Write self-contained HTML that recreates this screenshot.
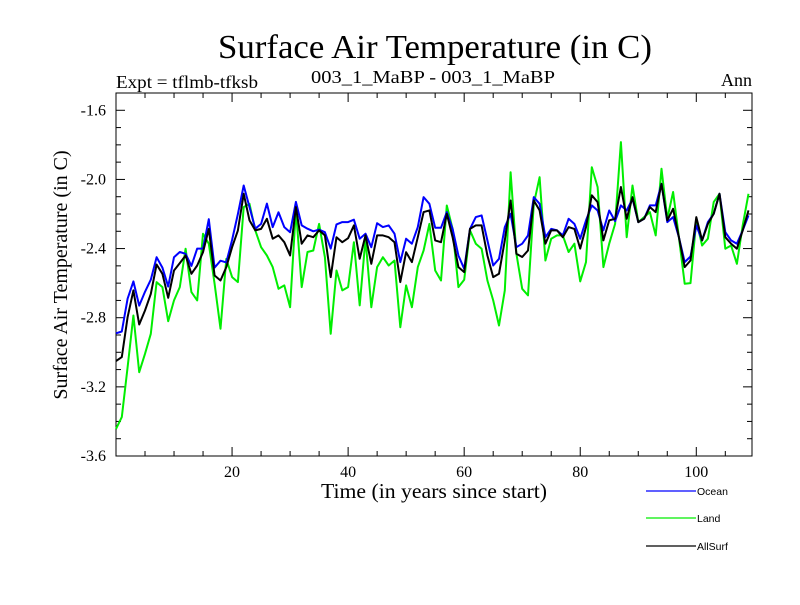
<!DOCTYPE html>
<html><head><meta charset="utf-8"><style>
body{margin:0;background:#fff;}
svg text{font-family:"Liberation Serif",serif;}
</style></head><body>
<svg id="chart" width="800" height="600" xmlns="http://www.w3.org/2000/svg">
<text x="218" y="58" font-size="34" textLength="434" lengthAdjust="spacingAndGlyphs">Surface Air Temperature (in C)</text>
<text x="116" y="88" font-size="18" textLength="142" lengthAdjust="spacingAndGlyphs">Expt = tflmb-tfksb</text>
<text x="311" y="83" font-size="18" textLength="244" lengthAdjust="spacingAndGlyphs">003_1_MaBP - 003_1_MaBP</text>
<text x="752" y="86" font-size="18" text-anchor="end">Ann</text>
<text transform="translate(67,275) rotate(-90)" font-size="20" text-anchor="middle">Surface Air Temperature (in C)</text>
<text x="321" y="498" font-size="21" textLength="226" lengthAdjust="spacingAndGlyphs">Time (in years since start)</text>
<g id="axes"></g>
<g id="series"></g>
<g id="legend"></g>
</svg>
<script>
const yearsCount = 110;
const ocean = [-2.89,-2.88,-2.69,-2.59,-2.73,-2.65,-2.58,-2.45,-2.51,-2.62,-2.45,-2.42,-2.43,-2.50,-2.40,-2.40,-2.23,-2.51,-2.47,-2.48,
-2.35,-2.20,-2.035,-2.16,-2.285,-2.257,-2.14,-2.276,-2.19,-2.276,-2.305,-2.13,-2.266,-2.285,-2.30,-2.29,-2.305,-2.40,-2.26,-2.247,
-2.247,-2.233,-2.343,-2.314,-2.392,-2.253,-2.276,-2.266,-2.314,-2.478,-2.343,-2.372,-2.276,-2.102,-2.141,-2.28,-2.28,-2.189,-2.286,-2.44,
-2.517,-2.286,-2.218,-2.208,-2.353,-2.498,-2.459,-2.276,-2.199,-2.392,-2.372,-2.324,-2.102,-2.141,-2.334,-2.286,-2.295,-2.324,-2.228,-2.257,
-2.343,-2.237,-2.15,-2.18,-2.295,-2.18,-2.241,-2.15,-2.18,-2.112,-2.247,-2.228,-2.15,-2.15,-2.025,-2.247,-2.218,-2.334,-2.478,-2.446,
-2.266,-2.353,-2.247,-2.199,-2.083,-2.305,-2.353,-2.372,-2.295,-2.208];
const land = [-3.443,-3.375,-3.086,-2.787,-3.115,-3.009,-2.893,-2.594,-2.623,-2.82,-2.70,-2.623,-2.401,-2.652,-2.70,-2.314,-2.372,-2.604,-2.864,-2.46,
-2.565,-2.594,-2.16,-2.141,-2.295,-2.392,-2.44,-2.507,-2.633,-2.613,-2.739,-2.17,-2.623,-2.42,-2.411,-2.257,-2.45,-2.893,-2.527,-2.642,
-2.623,-2.363,-2.729,-2.343,-2.739,-2.507,-2.45,-2.498,-2.469,-2.855,-2.613,-2.739,-2.507,-2.411,-2.257,-2.527,-2.585,-2.151,-2.286,-2.623,
-2.58,-2.295,-2.372,-2.401,-2.585,-2.70,-2.845,-2.642,-1.958,-2.43,-2.633,-2.671,-2.141,-1.987,-2.469,-2.343,-2.324,-2.324,-2.42,-2.372,
-2.59,-2.478,-1.929,-2.044,-2.507,-2.372,-2.257,-1.784,-2.334,-2.035,-2.247,-2.218,-2.189,-2.324,-1.938,-2.228,-2.073,-2.334,-2.604,-2.6,
-2.237,-2.382,-2.343,-2.131,-2.083,-2.401,-2.382,-2.488,-2.266,-2.083];
const allsurf = [-3.051,-3.028,-2.797,-2.642,-2.839,-2.758,-2.662,-2.492,-2.546,-2.685,-2.527,-2.484,-2.44,-2.546,-2.498,-2.421,-2.286,-2.556,-2.585,-2.507,
-2.392,-2.295,-2.083,-2.237,-2.295,-2.286,-2.228,-2.343,-2.324,-2.363,-2.44,-2.16,-2.372,-2.324,-2.334,-2.295,-2.324,-2.565,-2.334,-2.363,
-2.34,-2.266,-2.459,-2.324,-2.488,-2.324,-2.324,-2.334,-2.363,-2.594,-2.421,-2.478,-2.334,-2.189,-2.179,-2.353,-2.363,-2.199,-2.334,-2.507,
-2.536,-2.286,-2.266,-2.266,-2.44,-2.565,-2.546,-2.353,-2.122,-2.43,-2.449,-2.411,-2.122,-2.179,-2.372,-2.295,-2.295,-2.334,-2.276,-2.286,
-2.40,-2.276,-2.092,-2.131,-2.353,-2.237,-2.228,-2.044,-2.228,-2.102,-2.247,-2.228,-2.16,-2.189,-2.025,-2.237,-2.17,-2.334,-2.507,-2.469,
-2.218,-2.353,-2.257,-2.199,-2.083,-2.334,-2.372,-2.401,-2.295,-2.179];
const yTicks = [-1.6,-2.0,-2.4,-2.8,-3.2,-3.6];
const yTickLabels = ["-1.6","-2.0","-2.4","-2.8","-3.2","-3.6"];
const xTicks = [20,40,60,80,100];
const xTickLabels = ["20","40","60","80","100"];
const seriesNames = ["Ocean","Land","AllSurf"];
const seriesColors = ["#0000ff","#00ee00","#000000"];

const L=116,R=752,T=93,B=456;
const xMin=0,xMax=109.6,yMin=-3.6,yMax=-1.5;
const xs=v=>L+(v-xMin)/(xMax-xMin)*(R-L);
const ys=v=>B-(v-yMin)/(yMax-yMin)*(B-T);
const NS="http://www.w3.org/2000/svg";
function mk(tag,attrs,parent){const e=document.createElementNS(NS,tag);for(const k in attrs)e.setAttribute(k,attrs[k]);parent.appendChild(e);return e;}
const axes=document.getElementById('axes');
const frame=mk('rect',{x:L,y:T,width:R-L,height:B-T,fill:'none',stroke:'#000','stroke-width':1},axes);


for(let k=0;k<=21;k++){const v=yMin+k*0.1;const y=ys(v);const major=(k%4===0);const len=major?9:5;
 const t1=mk('line',{x1:L,x2:L+len,y1:y,y2:y,stroke:'#000'},axes);
 
 
 const t2=mk('line',{x1:R,x2:R-len,y1:y,y2:y,stroke:'#000'},axes);
 
 }
yTicks.forEach((v,i)=>{const t=mk('text',{x:106,y:ys(v)+5,'font-size':16,'text-anchor':'end'},axes);t.textContent=yTickLabels[i];
 
 });
for(let v=5;v<=105;v+=5){const x=xs(v);const major=(v%20===0);const len=major?9:5;
 const t1=mk('line',{x1:x,x2:x,y1:B,y2:B-len,stroke:'#000'},axes);
 
 
 const t2=mk('line',{x1:x,x2:x,y1:T,y2:T+len,stroke:'#000'},axes);
 
 }
xTicks.forEach((v,i)=>{const t=mk('text',{x:xs(v),y:477,'font-size':16,'text-anchor':'middle'},axes);t.textContent=xTickLabels[i];
 
 });
const sg=document.getElementById('series');
const order=[1,0,2];
order.forEach(si=>{const d=[ocean,land,allsurf][si];
 const pts=d.map((v,i)=>xs(i).toFixed(1)+','+ys(v).toFixed(1)).join(' ');
 const p=mk('polyline',{points:pts,fill:'none',stroke:seriesColors[si],'stroke-width':2,'stroke-linejoin':'round'},sg);
 
 });
const lg=document.getElementById('legend');
const ly=[491,518,546];
seriesNames.forEach((n,i)=>{
 const l=mk('line',{x1:646,x2:696,y1:ly[i],y2:ly[i],stroke:seriesColors[i],'stroke-width':1.3},lg);
 
 
 const t=mk('text',{x:697,y:ly[i]+4,'font-size':10.5},lg);t.textContent=n;
 t.setAttribute('style','font-family:"Liberation Sans",sans-serif');
 
 });
</script>
</body></html>
